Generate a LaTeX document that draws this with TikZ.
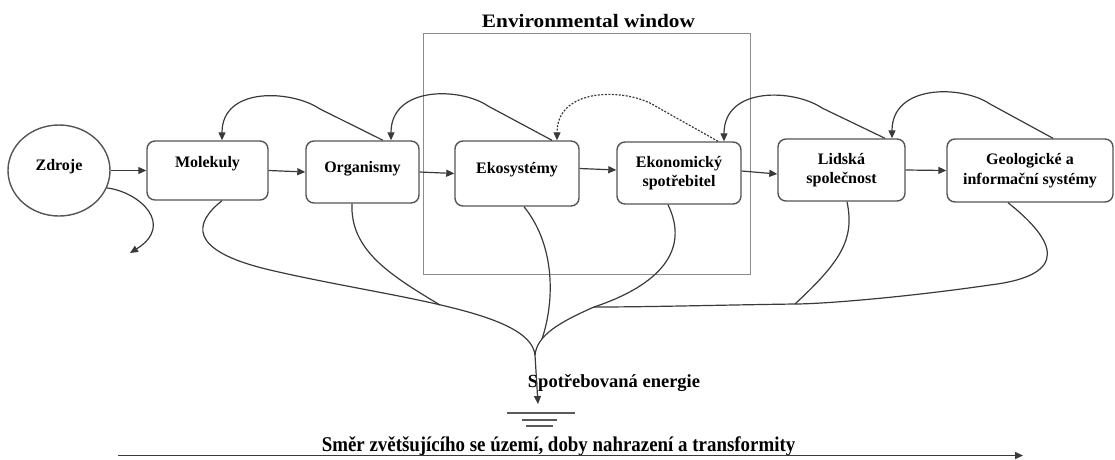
\documentclass[tikz,border=0pt]{standalone}
\usepackage{fontspec}
\setmainfont{Liberation Serif}
\usetikzlibrary{arrows.meta,shapes.geometric}
\definecolor{linec}{HTML}{3A3A3A}
\definecolor{boxc}{HTML}{555555}
\definecolor{winc}{HTML}{8C8C8C}
\definecolor{groundc}{HTML}{5A5A5A}
\newcommand\stagefont{\fontsize{16}{19.5}\selectfont\bfseries}

\begin{document}
\begin{tikzpicture}[x=1pt,y=-1pt,
  flow/.style={draw=linec, line width=1.2pt},
  arr/.style={flow, -{Triangle[length=8pt,width=7pt]}},
  stage/.style={draw=boxc, line width=1.4pt, rounded corners=8pt, align=center,
                font=\stagefont, text=black, inner sep=0pt},
  ground/.style={draw=groundc, line width=1.8pt}
]
\useasboundingbox (0,0) rectangle (1115,459);

% environmental window
\node[draw=winc, line width=0.9pt, minimum width=327pt, minimum height=241pt, inner sep=0pt] (win) at (586.5,153.5) {};
\node[anchor=base, font=\fontsize{19}{22}\selectfont\bfseries] (title) at (588.5,27) {\scalebox{1.12}[1]{Environmental window}};

% stages
\node[draw=boxc, line width=1.4pt, ellipse, minimum width=102pt, minimum height=91pt, inner sep=0pt,
      font=\stagefont, text depth=11pt] (zdr) at (59,170.5) {Zdroje};
\node[stage, minimum width=121pt, minimum height=59pt, text depth=17pt] (mol) at (207.5,170.5) {Molekuly};
\node[stage, minimum width=113pt, minimum height=62pt, text depth=10pt] (org) at (362.5,172) {Organismy};
\node[stage, minimum width=124pt, minimum height=65pt, text depth=11pt] (eko) at (517,173.5) {Ekosystémy};
\node[stage, minimum width=124pt, minimum height=62pt] (ekon) at (679,173) {Ekonomický\\spotřebitel};
\node[stage, minimum width=127pt, minimum height=62pt] (lid) at (841.5,170) {Lidská\\společnost};
\node[stage, minimum width=166pt, minimum height=63pt] (geo) at (1030,170.5) {Geologické a\\informační systémy};

% forward chain
\draw[arr] (zdr) -- (mol);
\draw[arr] (mol.east) -- (org.west);
\draw[arr] (org.east) -- (eko.west);
\draw[arr] ([yshift=5pt]eko.east) -- ([yshift=3pt]ekon.west);
\draw[arr] ([yshift=2pt]ekon.east) -- ([yshift=-4pt]lid.west);
\draw[arr] (lid.east) -- (geo.west);

% feedback loops over the top
\draw[arr] ([xshift=20.5pt]org.north) -- (320,109) .. controls (292,90) and (222,86) .. ([xshift=14.5pt]mol.north);
\draw[arr] ([xshift=35pt]eko.north) -- (488,106) .. controls (460,87) and (391,86) .. ([xshift=28.5pt]org.north);
\draw[arr, dash pattern=on 2pt off 1.5pt] ([xshift=39pt]ekon.north) -- (657,107) .. controls (629,88) and (557,86) .. ([xshift=40pt]eko.north);
\draw[arr] ([xshift=43.5pt]lid.north) -- (822,108) .. controls (794,89) and (724,86) .. ([xshift=45pt]ekon.north);
\draw[arr] ([xshift=23pt]geo.north) -- (990,104) .. controls (962,85) and (892,84) .. ([xshift=50.5pt]lid.north);

% outflow from the sources
\coordinate (out) at (130,253);
\draw[arr] (zdr.-20) .. controls (140,192) and (175,225) .. (out);

% energy dissipation paths
\coordinate (sink) at (535,355);
\coordinate (m1) at (440,305);
\coordinate (m2) at (594,307);
\coordinate (m3) at (795,304);
\coordinate (m4) at (542,339);
\coordinate (gnd) at (538,404);

\draw[flow] ([xshift=14.5pt]mol.south) .. controls (195,222) and (185,250) .. (270,270)
            .. controls (390,298) and (530,310) .. (sink);
\draw[flow] ([xshift=-10.5pt]org.south) .. controls (350,250) and (390,275) .. (m1);
\draw[flow] ([xshift=7pt]eko.south) .. controls (555,245) and (555,300) .. (m4);
\draw[flow] ([xshift=-11pt]ekon.south) .. controls (690,250) and (660,285) .. (m2);
\draw[flow] (m2) .. controls (560,322) and (537,335) .. (sink);
\draw[flow] ([xshift=-22pt]geo.south) .. controls (1055,240) and (1072,275) .. (990,285)
            .. controls (900,298) and (820,304) .. (m3)
            .. controls (720,305) and (650,307) .. (m2);
\draw[flow] ([xshift=5.5pt]lid.south) .. controls (855,240) and (840,262) .. (m3);

\node[anchor=base, font=\fontsize{18.5}{22}\selectfont\bfseries] (spent) at (614,387) {Spotřebovaná energie};
\draw[arr] (sink) -- (gnd);

% ground symbol
\draw[ground] (gnd) ++(-31,9) -- ++(68,0);
\draw[ground] (gnd) ++(-16,16) -- ++(35,0);
\draw[ground] (gnd) ++(-12,22) -- ++(27,0);

% direction axis
\node[anchor=base, font=\fontsize{21}{24}\selectfont\bfseries] (dir) at (558.5,451)
  {\scalebox{0.9}[1]{Směr zvětšujícího se území, doby nahrazení a transformity}};
\coordinate (axs) at (118,455.5);
\coordinate (axe) at (1023,455.5);
\draw[arr, line width=1.5pt] (axs) -- (axe);
\end{tikzpicture}
\end{document}
